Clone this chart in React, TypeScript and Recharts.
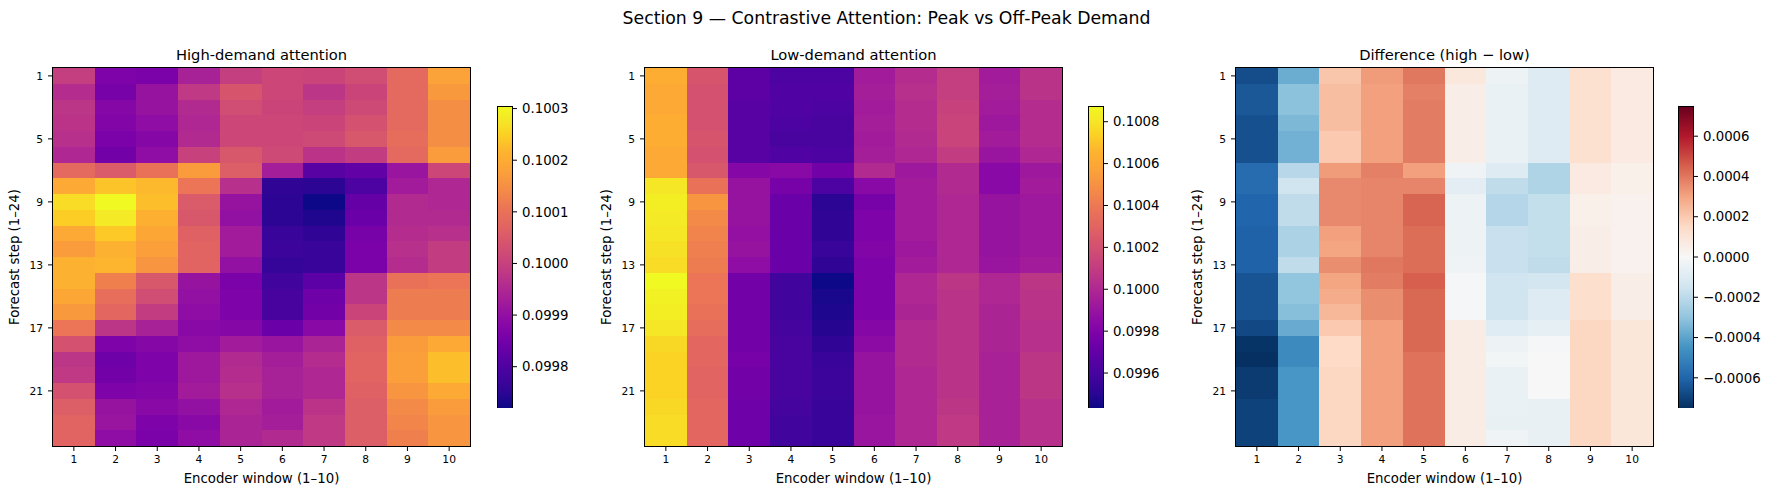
import React from "react";
import { ScatterChart, Scatter, XAxis, YAxis, BarChart, Bar, Label } from "recharts";

// axes
const encoderWindows = [1, 2, 3, 4, 5, 6, 7, 8, 9, 10];
const forecastSteps = [1, 2, 3, 4, 5, 6, 7, 8, 9, 10, 11, 12, 13, 14, 15, 16, 17, 18, 19, 20, 21, 22, 23, 24];
const stepTicks = [1, 5, 9, 13, 17, 21];

const highTicks = [0.0998, 0.0999, 0.1, 0.1001, 0.1002, 0.1003];
const lowTicks = [0.0996, 0.0998, 0.1, 0.1002, 0.1004, 0.1006, 0.1008];
const diffTicks = [-0.0006, -0.0004, -0.0002, 0, 0.0002, 0.0004, 0.0006];

// mean attention weight, rows = forecast step, cols = encoder window
const highDemand = [
  [0.099995, 0.099866, 0.09986, 0.099936, 0.099995, 0.100013, 0.100007, 0.100024, 0.100083, 0.100182],
  [0.09996, 0.099855, 0.099907, 0.099983, 0.100042, 0.100013, 0.099977, 0.100007, 0.100083, 0.100165],
  [0.099977, 0.099878, 0.099907, 0.099954, 0.100024, 0.100007, 0.099995, 0.100018, 0.100083, 0.100147],
  [0.099972, 0.099872, 0.099896, 0.099948, 0.100013, 0.100013, 0.100007, 0.100036, 0.100083, 0.100147],
  [0.099966, 0.09986, 0.099878, 0.099954, 0.100013, 0.100013, 0.100018, 0.100048, 0.100089, 0.100147],
  [0.099948, 0.099849, 0.099896, 0.100001, 0.100048, 0.100018, 0.099972, 0.099989, 0.100083, 0.10017],
  [0.100083, 0.100053, 0.1001, 0.10017, 0.100059, 0.099931, 0.099814, 0.099825, 0.099913, 0.100013],
  [0.100194, 0.100235, 0.100223, 0.100106, 0.099966, 0.099755, 0.099749, 0.099796, 0.099925, 0.099948],
  [0.100264, 0.100305, 0.100229, 0.100053, 0.099907, 0.099749, 0.09972, 0.099831, 0.099954, 0.099948],
  [0.100247, 0.100282, 0.100206, 0.100048, 0.099901, 0.099749, 0.099738, 0.099837, 0.099954, 0.099954],
  [0.100194, 0.100241, 0.100188, 0.100065, 0.099925, 0.099767, 0.099755, 0.099855, 0.09996, 0.099966],
  [0.10017, 0.100211, 0.100176, 0.100071, 0.099925, 0.099773, 0.099767, 0.09986, 0.099966, 0.099989],
  [0.100211, 0.100217, 0.100159, 0.100071, 0.099901, 0.099761, 0.099767, 0.09986, 0.09996, 0.099989],
  [0.100211, 0.100124, 0.100048, 0.099907, 0.09986, 0.099779, 0.099819, 0.099977, 0.1001, 0.100106],
  [0.100188, 0.100094, 0.100024, 0.099901, 0.099866, 0.09979, 0.099843, 0.099977, 0.100118, 0.100118],
  [0.100165, 0.100077, 0.099989, 0.099896, 0.099866, 0.09979, 0.099849, 0.100007, 0.100118, 0.100118],
  [0.100106, 0.099977, 0.099936, 0.099884, 0.099878, 0.099837, 0.099884, 0.100053, 0.100141, 0.100141],
  [0.100036, 0.099866, 0.099878, 0.099896, 0.099925, 0.099913, 0.099942, 0.100065, 0.10017, 0.100194],
  [0.099977, 0.099843, 0.099866, 0.099919, 0.099954, 0.099931, 0.09996, 0.100071, 0.100176, 0.100229],
  [0.099983, 0.099849, 0.099866, 0.099919, 0.09996, 0.099936, 0.099948, 0.100071, 0.100176, 0.100229],
  [0.100036, 0.099866, 0.099872, 0.099925, 0.099966, 0.099936, 0.099948, 0.100065, 0.100159, 0.100194],
  [0.100059, 0.099907, 0.099884, 0.099901, 0.099948, 0.099925, 0.099972, 0.100059, 0.100141, 0.10017],
  [0.100071, 0.099913, 0.099866, 0.099884, 0.099942, 0.099931, 0.099983, 0.100059, 0.100135, 0.100159],
  [0.100071, 0.099896, 0.09986, 0.099896, 0.099942, 0.099954, 0.099983, 0.100059, 0.100124, 0.100159],
];

const lowDemand = [
  [0.10063, 0.100226, 0.099678, 0.09962, 0.09962, 0.099938, 0.100024, 0.100111, 0.099938, 0.100053],
  [0.100601, 0.100212, 0.099678, 0.099635, 0.099635, 0.099952, 0.100039, 0.100111, 0.099952, 0.100053],
  [0.100601, 0.100212, 0.099664, 0.099635, 0.09962, 0.099938, 0.100024, 0.100125, 0.099938, 0.100024],
  [0.10063, 0.100212, 0.099664, 0.09962, 0.099606, 0.099952, 0.100024, 0.10014, 0.099923, 0.100024],
  [0.10063, 0.100226, 0.099664, 0.099606, 0.099606, 0.099938, 0.10001, 0.10014, 0.099938, 0.100024],
  [0.100601, 0.100212, 0.099664, 0.099635, 0.09962, 0.099952, 0.099995, 0.100096, 0.099909, 0.099995],
  [0.100601, 0.100241, 0.099822, 0.099837, 0.09975, 0.10001, 0.099923, 0.10001, 0.099837, 0.099923],
  [0.100803, 0.10037, 0.099894, 0.099765, 0.09962, 0.099837, 0.099938, 0.10001, 0.099837, 0.099938],
  [0.100832, 0.100515, 0.099894, 0.099721, 0.099505, 0.099765, 0.099938, 0.099995, 0.099894, 0.099923],
  [0.100817, 0.100471, 0.099894, 0.099721, 0.09952, 0.099794, 0.099938, 0.099995, 0.099894, 0.099923],
  [0.100803, 0.100442, 0.09988, 0.099721, 0.09952, 0.099794, 0.099938, 0.099995, 0.099894, 0.099923],
  [0.100788, 0.100428, 0.099894, 0.099721, 0.099548, 0.099808, 0.099923, 0.099995, 0.099894, 0.099923],
  [0.100774, 0.100414, 0.099866, 0.099721, 0.09952, 0.099794, 0.099938, 0.099995, 0.099909, 0.099938],
  [0.100875, 0.100385, 0.09975, 0.099577, 0.099433, 0.099794, 0.099995, 0.100067, 0.099995, 0.100067],
  [0.100846, 0.100385, 0.09975, 0.099577, 0.099462, 0.099794, 0.099995, 0.100053, 0.099995, 0.100053],
  [0.100832, 0.10037, 0.09975, 0.099577, 0.099476, 0.099794, 0.099981, 0.100053, 0.099981, 0.100053],
  [0.100803, 0.100341, 0.09975, 0.099592, 0.099491, 0.099822, 0.10001, 0.100053, 0.099981, 0.100039],
  [0.10076, 0.100313, 0.09975, 0.099606, 0.09952, 0.099851, 0.10001, 0.100053, 0.099981, 0.100039],
  [0.100745, 0.100313, 0.099765, 0.099606, 0.099548, 0.099894, 0.10001, 0.100053, 0.099967, 0.100067],
  [0.100745, 0.100298, 0.09975, 0.099606, 0.099563, 0.099894, 0.099995, 0.100053, 0.099967, 0.100067],
  [0.100745, 0.100298, 0.09975, 0.099606, 0.099563, 0.099894, 0.099995, 0.100053, 0.099967, 0.100067],
  [0.10076, 0.100313, 0.099736, 0.099592, 0.099548, 0.099894, 0.099995, 0.100067, 0.099967, 0.100039],
  [0.100774, 0.100313, 0.099736, 0.099577, 0.099548, 0.099909, 0.099995, 0.100082, 0.099967, 0.100039],
  [0.100774, 0.100313, 0.099736, 0.099577, 0.099548, 0.099909, 0.099995, 0.100082, 0.099967, 0.100039],
];

const diffHighLow = [
  [-0.00067, -0.000375, 0.00021, 0.00032, 0.0004, 0.00008, -0.00004, -0.0001, 0.00012, 0.00007],
  [-0.00064, -0.00031, 0.00023, 0.00031, 0.00038, 0.00005, -0.00005, -0.0001, 0.00012, 0.00007],
  [-0.00064, -0.00031, 0.00023, 0.00031, 0.00039, 0.00005, -0.00005, -0.0001, 0.00012, 0.00007],
  [-0.00066, -0.00034, 0.00023, 0.00031, 0.00039, 0.00005, -0.00005, -0.0001, 0.00012, 0.00007],
  [-0.00066, -0.00036, 0.0002, 0.00031, 0.00039, 0.00005, -0.00005, -0.0001, 0.00012, 0.00007],
  [-0.00066, -0.00036, 0.0002, 0.00031, 0.00039, 0.00005, -0.00005, -0.0001, 0.00012, 0.00007],
  [-0.00058, -0.00021, 0.00032, 0.00038, 0.00031, -0.00003, -0.0001, -0.00023, 0.00007, 0.00004],
  [-0.00058, -0.00015, 0.00036, 0.00037, 0.00037, -0.00008, -0.00019, -0.00023, 0.00007, 0.00004],
  [-0.0006, -0.00019, 0.00036, 0.00037, 0.00044, -0.00004, -0.00022, -0.00018, 0.00004, 0.00003],
  [-0.0006, -0.00019, 0.00036, 0.00037, 0.00044, -0.00004, -0.00022, -0.00018, 0.00004, 0.00003],
  [-0.00061, -0.00024, 0.00031, 0.00037, 0.00042, -0.00004, -0.00017, -0.00018, 0.00005, 0.00003],
  [-0.00061, -0.00024, 0.0003, 0.00037, 0.00042, -0.00004, -0.00017, -0.00018, 0.00005, 0.00003],
  [-0.00061, -0.00019, 0.00035, 0.0004, 0.00042, -0.00003, -0.00017, -0.00019, 0.00005, 0.00003],
  [-0.00065, -0.0003, 0.0003, 0.00039, 0.00045, -0.00001, -0.00015, -0.00014, 0.00013, 0.00005],
  [-0.00065, -0.0003, 0.00028, 0.00035, 0.00043, -0.00001, -0.00015, -0.0001, 0.00013, 0.00005],
  [-0.00065, -0.00032, 0.00025, 0.00035, 0.00043, -0.00001, -0.00015, -0.0001, 0.00013, 0.00005],
  [-0.00068, -0.00038, 0.0002, 0.00031, 0.00043, 0.00006, -0.00009, -0.00007, 0.00016, 0.00009],
  [-0.00074, -0.00048, 0.00015, 0.00031, 0.00043, 0.00006, -0.00004, -0.00001, 0.00016, 0.00009],
  [-0.00075, -0.00048, 0.00015, 0.00031, 0.00041, 0.00006, -0.00002, 0, 0.00016, 0.00009],
  [-0.00072, -0.00044, 0.00016, 0.00031, 0.00041, 0.00006, -0.00005, 0, 0.00016, 0.00009],
  [-0.00072, -0.00044, 0.00016, 0.00031, 0.00041, 0.00006, -0.00005, 0, 0.00016, 0.00009],
  [-0.0007, -0.00044, 0.00016, 0.00031, 0.00041, 0.00006, -0.00005, -0.00006, 0.00016, 0.00009],
  [-0.0007, -0.00044, 0.00016, 0.00031, 0.00041, 0.00006, -0.00006, -0.00006, 0.00016, 0.00009],
  [-0.0007, -0.00044, 0.00016, 0.00031, 0.00041, 0.00006, -0.00003, -0.00006, 0.00016, 0.00009],
];

// colormaps
const PLASMA = [
  "#0d0887", "#2c0594", "#41049d", "#5402a3", "#6a00a8", "#7e03a8", "#8f0da4",
  "#a11b9b", "#b12a90", "#bf3984", "#cc4778", "#d6556d", "#e16462", "#e97158",
  "#f1834c", "#f89540", "#fca636", "#fdb42f", "#fcce25", "#f5e626", "#f0f921",
];
const RDBU_R = [
  "#053061", "#2166ac", "#4393c3", "#92c5de", "#d1e5f0", "#f7f7f7",
  "#fddbc7", "#f4a582", "#d6604d", "#b2182b", "#67001f",
];

const hexToRgb = (h: string) => [1, 3, 5].map((i) => parseInt(h.slice(i, i + 2), 16));

function sampleMap(stops: string[], t: number) {
  const c = Math.min(1, Math.max(0, t)) * (stops.length - 1);
  const i = Math.min(stops.length - 2, Math.floor(c));
  const f = c - i;
  const a = hexToRgb(stops[i]);
  const b = hexToRgb(stops[i + 1]);
  const rgb = a.map((v, k) => Math.round(v + (b[k] - v) * f));
  return `rgb(${rgb[0]},${rgb[1]},${rgb[2]})`;
}

const FONT = "'DejaVu Sans', 'Liberation Sans', sans-serif";
const PLOT_TOP = 68;
const PLOT_BOTTOM = 446;
const PLOT_W = 417;
const PLOT_H = PLOT_BOTTOM - PLOT_TOP;
const Y_AXIS_W = 53;
const CHART_W = 480;
const FIG_H = 495;
const CB_TOP = 106;
const CB_BOTTOM = 408;
const CB_W = 15;

const X_DOMAIN: [number, number] = [0.5, encoderWindows.length + 0.5];
const Y_DOMAIN: [number, number] = [0.5, forecastSteps.length + 0.5];

const cellW = PLOT_W / encoderWindows.length;
const cellH = PLOT_H / forecastSteps.length;

// one point at the middle of the grid; its shape is the axes frame
const frameCentre = [{ x: (X_DOMAIN[0] + X_DOMAIN[1]) / 2, y: (Y_DOMAIN[0] + Y_DOMAIN[1]) / 2 }];

const fmt4 = (v: number) => (v < 0 ? "\u2212" + Math.abs(v).toFixed(4) : v.toFixed(4));

interface PanelSpec {
  key: string;
  title: string;
  left: number;
  cbLeft: number;
  matrix: number[][];
  stops: string[];
  ticks: number[];
  diverging?: boolean;
}

const panels: PanelSpec[] = [
  { key: "high", title: "High-demand attention", left: 0, cbLeft: 497, matrix: highDemand, stops: PLASMA, ticks: highTicks },
  { key: "low", title: "Low-demand attention", left: 592, cbLeft: 1088, matrix: lowDemand, stops: PLASMA, ticks: lowTicks },
  { key: "diff", title: "Difference (high \u2212 low)", left: 1183, cbLeft: 1678, matrix: diffHighLow, stops: RDBU_R, ticks: diffTicks, diverging: true },
];

function colorDomain(p: PanelSpec): [number, number] {
  const all = p.matrix.flat();
  if (p.diverging) {
    const lim = Math.max(...all.map((v) => Math.abs(v)));
    return [-lim, lim];
  }
  return [Math.min(...all), Math.max(...all)];
}

// cells snap to whole pixels so neighbours meet without hairline gaps
const Cell = (props: any) => (
  <rect
    x={props.cx - cellW / 2}
    y={props.cy - cellH / 2}
    width={cellW}
    height={cellH}
    fill={props.payload.fill}
    shapeRendering="crispEdges"
  />
);

// frame sits half a pixel outside the grid so the cells never cover it
const Frame = (props: any) => (
  <rect
    x={props.cx - PLOT_W / 2 - 0.5}
    y={props.cy - PLOT_H / 2 - 0.5}
    width={PLOT_W + 1}
    height={PLOT_H + 1}
    fill="none"
    stroke="#000"
    strokeWidth={1}
  />
);

function Heatmap({ p }: { p: PanelSpec }) {
  const [lo, hi] = colorDomain(p);
  const points = p.matrix.flatMap((row, r) =>
    row.map((v, c) => ({
      x: encoderWindows[c],
      y: forecastSteps[r],
      v,
      fill: sampleMap(p.stops, (v - lo) / (hi - lo)),
    }))
  );
  const tickStyle = { fill: "#000", fontSize: 10.7, fontFamily: FONT };
  return (
    <div style={{ position: "absolute", left: p.left, top: 0 }}>
      <ScatterChart
        width={CHART_W}
        height={FIG_H}
        margin={{ top: PLOT_TOP, right: CHART_W - Y_AXIS_W - PLOT_W, bottom: 0, left: 0 }}
      >
        <XAxis
          type="number"
          dataKey="x"
          domain={X_DOMAIN}
          ticks={encoderWindows}
          interval={0}
          height={FIG_H - PLOT_BOTTOM}
          axisLine={false}
          tickLine={{ stroke: "#000" }}
          tickSize={5}
          tickMargin={4}
          tick={tickStyle}
        >
          <Label
            value="Encoder window (1–10)"
            position="insideBottom"
            offset={12}
            fill="#000"
            style={{ fill: "#000", fontSize: 13.3, fontFamily: FONT }}
          />
        </XAxis>
        <YAxis
          type="number"
          dataKey="y"
          domain={Y_DOMAIN}
          ticks={stepTicks}
          interval={0}
          reversed
          width={Y_AXIS_W}
          axisLine={false}
          tickLine={{ stroke: "#000" }}
          tickSize={5}
          tickMargin={5}
          tick={tickStyle}
        >
          <Label
            value="Forecast step (1–24)"
            angle={-90}
            position="insideLeft"
            offset={14}
            fill="#000"
            style={{ textAnchor: "middle", fill: "#000", fontSize: 13.3, fontFamily: FONT }}
          />
        </YAxis>
        <Scatter data={points} shape={Cell} isAnimationActive={false} />
        <Scatter data={frameCentre} shape={Frame} isAnimationActive={false} />
      </ScatterChart>
    </div>
  );
}

function ColorBar({ p }: { p: PanelSpec }) {
  const domain = colorDomain(p);
  const data = [{ key: "scale", span: domain }];
  const gid = `cmap-${p.key}`;
  const axisW = 75;
  return (
    <div style={{ position: "absolute", left: p.cbLeft, top: 0 }}>
      <BarChart
        width={CB_W + axisW}
        height={FIG_H}
        data={data}
        margin={{ top: CB_TOP, bottom: FIG_H - CB_BOTTOM, left: 0, right: 0 }}
        barCategoryGap={0}
      >
        <defs>
          <linearGradient id={gid} x1="0" y1="1" x2="0" y2="0">
            {p.stops.map((c, i) => (
              <stop key={i} offset={i / (p.stops.length - 1)} stopColor={c} />
            ))}
          </linearGradient>
        </defs>
        <XAxis dataKey="key" hide />
        <YAxis
          orientation="right"
          type="number"
          domain={domain}
          ticks={p.ticks}
          interval={0}
          allowDataOverflow
          width={axisW}
          axisLine={false}
          tickLine={{ stroke: "#000" }}
          tickSize={5}
          tickMargin={5}
          tickFormatter={fmt4}
          tick={{ fill: "#000", fontSize: 13.3, fontFamily: FONT }}
        />
        <Bar
          dataKey="span"
          fill={`url(#${gid})`}
          stroke="#000"
          strokeWidth={1}
          shapeRendering="crispEdges"
          isAnimationActive={false}
        />
      </BarChart>
    </div>
  );
}

export default function App() {
  return (
    <div
      style={{
        position: "absolute",
        left: 0,
        top: 0,
        width: 1773,
        height: FIG_H,
        background: "#fff",
        fontFamily: FONT,
      }}
    >
      <svg width={1773} height={FIG_H} style={{ position: "absolute", left: 0, top: 0 }}>
        <text x={886.5} y={24} textAnchor="middle" fontSize={17.3} fill="#000" fontFamily={FONT}>
          Section 9 — Contrastive Attention: Peak vs Off-Peak Demand
        </text>
        {panels.map((p) => (
          <text
            key={p.key}
            x={p.left + Y_AXIS_W + PLOT_W / 2}
            y={60}
            textAnchor="middle"
            fontSize={14.7}
            fill="#000"
            fontFamily={FONT}
          >
            {p.title}
          </text>
        ))}
      </svg>
      {panels.map((p) => (
        <React.Fragment key={p.key}>
          <Heatmap p={p} />
          <ColorBar p={p} />
        </React.Fragment>
      ))}
    </div>
  );
}
